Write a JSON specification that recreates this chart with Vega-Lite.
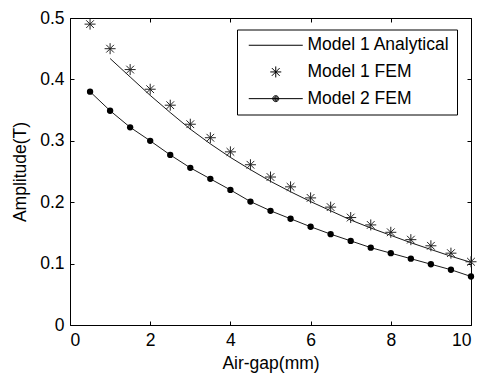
{
  "$schema": "https://vega.github.io/schema/vega-lite/v6.json",
  "width": 401,
  "height": 307,
  "autosize": {"type": "none"},
  "padding": {"left": 70, "top": 18, "right": 12, "bottom": 50},
  "background": "white",
  "config": {
    "font": "Liberation Sans",
    "view": {"stroke": "black", "strokeWidth": 1},
    "axis": {
      "domain": false, "tickColor": "black", "labelColor": "black", "titleColor": "black",
      "labelFont": "Liberation Sans", "titleFont": "Liberation Sans",
      "labelFontSize": 17.5, "titleFontSize": 17.5, "titleFontWeight": "normal",
      "grid": false, "ticks": true, "tickSize": 4, "tickWidth": 1, "tickOpacity": 1, "offset": -4, "labelPadding": 6
    },
    "legend": {
      "labelFont": "Liberation Sans", "labelFontSize": 17.5, "labelColor": "black", "labelLimit": 0
    }
  },
  "datasets": {
    "analytical": [
      {"series": "Model 1 Analytical", "gap": 1, "amp": 0.434},
      {"series": "Model 1 Analytical", "gap": 1.5, "amp": 0.404},
      {"series": "Model 1 Analytical", "gap": 2, "amp": 0.374},
      {"series": "Model 1 Analytical", "gap": 2.5, "amp": 0.346},
      {"series": "Model 1 Analytical", "gap": 3, "amp": 0.319},
      {"series": "Model 1 Analytical", "gap": 3.5, "amp": 0.295},
      {"series": "Model 1 Analytical", "gap": 4, "amp": 0.273},
      {"series": "Model 1 Analytical", "gap": 4.5, "amp": 0.253},
      {"series": "Model 1 Analytical", "gap": 5, "amp": 0.234},
      {"series": "Model 1 Analytical", "gap": 5.5, "amp": 0.217},
      {"series": "Model 1 Analytical", "gap": 6, "amp": 0.201},
      {"series": "Model 1 Analytical", "gap": 6.5, "amp": 0.186},
      {"series": "Model 1 Analytical", "gap": 7, "amp": 0.171},
      {"series": "Model 1 Analytical", "gap": 7.5, "amp": 0.158},
      {"series": "Model 1 Analytical", "gap": 8, "amp": 0.146},
      {"series": "Model 1 Analytical", "gap": 8.5, "amp": 0.134},
      {"series": "Model 1 Analytical", "gap": 9, "amp": 0.123},
      {"series": "Model 1 Analytical", "gap": 9.5, "amp": 0.112},
      {"series": "Model 1 Analytical", "gap": 10, "amp": 0.102}
    ],
    "fem1": [
      {"series": "Model 1 FEM", "gap": 0.5, "amp": 0.490},
      {"series": "Model 1 FEM", "gap": 1, "amp": 0.450},
      {"series": "Model 1 FEM", "gap": 1.5, "amp": 0.416},
      {"series": "Model 1 FEM", "gap": 2, "amp": 0.384},
      {"series": "Model 1 FEM", "gap": 2.5, "amp": 0.358},
      {"series": "Model 1 FEM", "gap": 3, "amp": 0.327},
      {"series": "Model 1 FEM", "gap": 3.5, "amp": 0.305},
      {"series": "Model 1 FEM", "gap": 4, "amp": 0.282},
      {"series": "Model 1 FEM", "gap": 4.5, "amp": 0.261},
      {"series": "Model 1 FEM", "gap": 5, "amp": 0.241},
      {"series": "Model 1 FEM", "gap": 5.5, "amp": 0.225},
      {"series": "Model 1 FEM", "gap": 6, "amp": 0.207},
      {"series": "Model 1 FEM", "gap": 6.5, "amp": 0.192},
      {"series": "Model 1 FEM", "gap": 7, "amp": 0.175},
      {"series": "Model 1 FEM", "gap": 7.5, "amp": 0.163},
      {"series": "Model 1 FEM", "gap": 8, "amp": 0.151},
      {"series": "Model 1 FEM", "gap": 8.5, "amp": 0.139},
      {"series": "Model 1 FEM", "gap": 9, "amp": 0.129},
      {"series": "Model 1 FEM", "gap": 9.5, "amp": 0.117},
      {"series": "Model 1 FEM", "gap": 10, "amp": 0.103}
    ],
    "fem2": [
      {"series": "Model 2 FEM", "gap": 0.5, "amp": 0.380},
      {"series": "Model 2 FEM", "gap": 1, "amp": 0.349},
      {"series": "Model 2 FEM", "gap": 1.5, "amp": 0.322},
      {"series": "Model 2 FEM", "gap": 2, "amp": 0.300},
      {"series": "Model 2 FEM", "gap": 2.5, "amp": 0.277},
      {"series": "Model 2 FEM", "gap": 3, "amp": 0.256},
      {"series": "Model 2 FEM", "gap": 3.5, "amp": 0.238},
      {"series": "Model 2 FEM", "gap": 4, "amp": 0.220},
      {"series": "Model 2 FEM", "gap": 4.5, "amp": 0.201},
      {"series": "Model 2 FEM", "gap": 5, "amp": 0.186},
      {"series": "Model 2 FEM", "gap": 5.5, "amp": 0.173},
      {"series": "Model 2 FEM", "gap": 6, "amp": 0.160},
      {"series": "Model 2 FEM", "gap": 6.5, "amp": 0.148},
      {"series": "Model 2 FEM", "gap": 7, "amp": 0.137},
      {"series": "Model 2 FEM", "gap": 7.5, "amp": 0.126},
      {"series": "Model 2 FEM", "gap": 8, "amp": 0.117},
      {"series": "Model 2 FEM", "gap": 8.5, "amp": 0.108},
      {"series": "Model 2 FEM", "gap": 9, "amp": 0.099},
      {"series": "Model 2 FEM", "gap": 9.5, "amp": 0.090},
      {"series": "Model 2 FEM", "gap": 10, "amp": 0.079}
    ]
  },
  "layer": [
    {
      "encoding": {
        "x": {"field": "gap", "type": "quantitative",
              "scale": {"domain": [0, 10], "nice": false, "zero": false},
              "axis": {"values": [0, 2, 4, 6, 8, 10], "title": "Air-gap(mm)", "titlePadding": 6}},
        "y": {"field": "amp", "type": "quantitative",
              "scale": {"domain": [0, 0.5], "nice": false},
              "axis": {"values": [0, 0.1, 0.2, 0.3, 0.4, 0.5], "format": "~g", "title": "Amplitude(T)", "titlePadding": 10}}
      },
      "layer": [
        {"data": {"name": "analytical"}, "mark": {"type": "line", "color": "black", "strokeWidth": 0.9}},
        {"data": {"name": "fem2"}, "mark": {"type": "line", "color": "black", "strokeWidth": 0.9}},
        {"data": {"name": "fem1"}, "mark": {"type": "point", "filled": false, "stroke": "#222222", "strokeWidth": 1, "opacity": 1, "size": 121,
            "shape": "M-1,0H1M0,-1V1M-0.7,-0.7L0.7,0.7M-0.7,0.7L0.7,-0.7"}},
        {"data": {"name": "fem2"}, "mark": {"type": "point", "filled": true, "color": "black", "opacity": 1, "size": 40, "shape": "circle"}},
        {"data": {"name": "fem1"}, "mark": {"type": "point", "filled": false, "stroke": "black", "strokeWidth": 1, "opacity": 0},
          "encoding": {
            "shape": {"field": "series", "type": "nominal",
              "scale": {"domain": ["Model 1 Analytical", "Model 1 FEM", "Model 2 FEM"],
                        "range": ["M-5.4,0H5.4",
                                  "M-1.1,0H1.1M0,-1.1V1.1M-0.78,-0.78L0.78,0.78M-0.78,0.78L0.78,-0.78",
                                  "M-5.4,0H5.4M-0.6,0A0.6,0.6 0 1,1 0.6,0A0.6,0.6 0 1,1 -0.6,0M-0.4,0A0.4,0.4 0 1,1 0.4,0A0.4,0.4 0 1,1 -0.4,0M-0.2,0A0.2,0.2 0 1,1 0.2,0A0.2,0.2 0 1,1 -0.2,0M-0.05,0A0.05,0.05 0 1,1 0.05,0A0.05,0.05 0 1,1 -0.05,0"]},
              "legend": {"title": null, "orient": "none", "legendX": 167, "legendY": 11.5,
                "strokeColor": "black", "fillColor": "white", "cornerRadius": 0,
                "padding": 7, "rowPadding": 7.7, "symbolSize": 100, "symbolOffset": 23, "labelOffset": 23,
                "symbolStrokeWidth": 1, "symbolStrokeColor": "black", "symbolOpacity": 1}
            }
          }}
      ]
    },
    {
      "data": {"name": "fem2"},
      "mark": {"type": "point", "opacity": 0},
      "encoding": {
        "x": {"field": "gap", "type": "quantitative",
              "scale": {"domain": [0, 10], "nice": false, "zero": false},
              "axis": {"orient": "top", "values": [0, 2, 4, 6, 8, 10], "labels": false, "title": null}},
        "y": {"field": "amp", "type": "quantitative",
              "scale": {"domain": [0, 0.5], "nice": false},
              "axis": {"orient": "right", "values": [0, 0.1, 0.2, 0.3, 0.4, 0.5], "labels": false, "title": null}}
      }
    }
  ],
  "resolve": {"scale": {"x": "independent", "y": "independent"}}
}
